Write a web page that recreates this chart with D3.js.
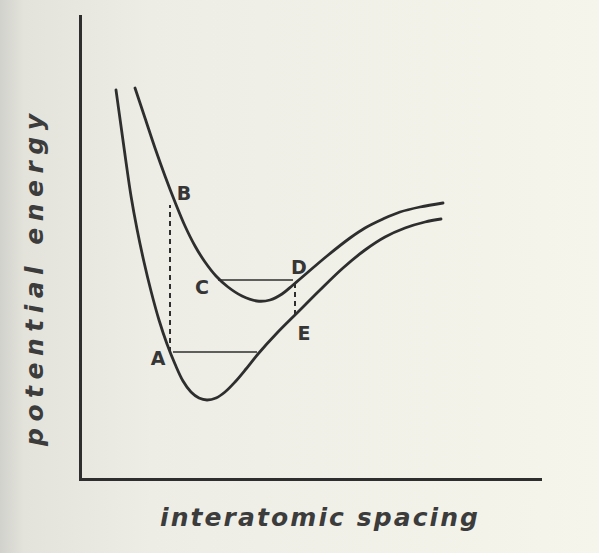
<!DOCTYPE html>
<html>
<head>
<meta charset="utf-8">
<script src="https://cdn.jsdelivr.net/npm/d3@7/dist/d3.min.js"></script>
<style>
  html, body { margin: 0; padding: 0; background: #f0f0e8; }
  svg { display: block; }
</style>
</head>
<body>
<svg id="chart" width="599" height="553"></svg>
<script>
// Potential energy vs. interatomic spacing (arbitrary units)
// Ground-state curve (A ... E)
const groundSpacing = [3.6, 4.1, 4.6, 5.1, 5.7, 6.4, 7.1, 7.9, 8.7, 9.5, 10.3, 11.1, 11.9, 12.7, 13.6, 14.5, 15.5, 16.6, 17.8, 19.7, 21.8, 24.0, 26.3, 28.5, 30.5, 32.5, 34.5, 36.1];
const groundEnergy  = [38.9, 35.3, 31.7, 28.3, 25.0, 21.7, 18.8, 15.9, 13.5, 11.5, 9.8, 8.7, 8.1, 7.9, 8.1, 8.7, 9.7, 11.0, 12.5, 14.6, 16.7, 18.9, 21.1, 22.9, 24.2, 25.1, 25.7, 26.0];

// Excited-state curve (B ... D)
const excitedSpacing = [5.5, 6.5, 7.5, 8.5, 9.5, 10.5, 11.5, 12.5, 13.6, 14.8, 16.2, 17.7, 19.0, 20.2, 21.3, 22.7, 24.7, 27.0, 28.5, 30.3, 32.0, 34.0, 36.3];
const excitedEnergy  = [39.1, 36.1, 33.1, 30.3, 27.7, 25.3, 23.3, 21.7, 20.3, 19.2, 18.3, 17.8, 17.9, 18.5, 19.4, 20.6, 22.3, 24.1, 25.1, 26.0, 26.7, 27.2, 27.6];

// Vibrational levels (solid horizontal lines)
const levelNames  = ["A", "C"];
const levelEnergy = [12.7, 19.9];
const levelFrom   = [9.3, 13.8];
const levelTo     = [17.7, 21.3];

// Vertical transitions (dashed lines)
const transitionSpacing = [9.0, 21.5];
const transitionFrom    = [12.7, 16.4];
const transitionTo      = [27.4, 19.9];

// Point labels
const pointLabels   = ["A", "B", "C", "D", "E"];
const labelSpacing  = [7.8, 10.4, 12.2, 21.9, 22.4];
const labelEnergy   = [12.1, 28.6, 19.2, 21.2, 14.6];

const axisTitleX = "interatomic spacing";
const axisTitleY = "potential energy";

const svg = d3.select("#chart");
const W = 599, H = 553;
const ink = "#2e2e2e";
const font = "'DejaVu Sans', 'Liberation Sans', Arial, sans-serif";

// paper background, slightly shaded toward the binding
const defs = svg.append("defs");
const grad = defs.append("linearGradient").attr("id", "paper")
  .attr("x1", "0").attr("x2", "1").attr("y1", "0").attr("y2", "0");
grad.append("stop").attr("offset", "0").attr("stop-color", "#d2d2cc");
grad.append("stop").attr("offset", "0.04").attr("stop-color", "#e3e3dc");
grad.append("stop").attr("offset", "0.25").attr("stop-color", "#ededE5");
grad.append("stop").attr("offset", "1").attr("stop-color", "#f5f5ec");
svg.append("rect").attr("width", W).attr("height", H).attr("fill", "url(#paper)");

const x = d3.scaleLinear().domain([0, 46]).range([80, 540]);
const y = d3.scaleLinear().domain([0, 46.3]).range([479, 16]);

// axes: bare lines, no ticks
const xAxis = svg.append("g").attr("transform", `translate(0,${y(0)})`)
  .call(d3.axisBottom(x).tickValues([]).tickSizeOuter(0));
const yAxis = svg.append("g").attr("transform", `translate(${x(0)},0)`)
  .call(d3.axisLeft(y).tickValues([]).tickSizeOuter(0));
[xAxis, yAxis].forEach(g => g.select(".domain")
  .attr("stroke", ink).attr("stroke-width", 3).attr("stroke-linecap", "square"));

// curves
const line = d3.line()
  .x(d => x(d[0])).y(d => y(d[1]))
  .curve(d3.curveCatmullRom.alpha(0.5));

const ground = groundSpacing.map((s, i) => [s, groundEnergy[i]]);
const excited = excitedSpacing.map((s, i) => [s, excitedEnergy[i]]);

svg.selectAll("path.curve").data([ground, excited]).join("path")
  .attr("class", "curve")
  .attr("d", line)
  .attr("fill", "none")
  .attr("stroke", ink)
  .attr("stroke-width", 2.8)
  .attr("stroke-linecap", "round");

// vibrational levels
svg.selectAll("line.level").data(levelEnergy).join("line")
  .attr("class", "level")
  .attr("x1", (d, i) => x(levelFrom[i]))
  .attr("x2", (d, i) => x(levelTo[i]))
  .attr("y1", d => y(d)).attr("y2", d => y(d))
  .attr("stroke", ink).attr("stroke-width", 1.7);

// vertical transitions
svg.selectAll("line.transition").data(transitionSpacing).join("line")
  .attr("class", "transition")
  .attr("x1", d => x(d)).attr("x2", d => x(d))
  .attr("y1", (d, i) => y(transitionFrom[i]))
  .attr("y2", (d, i) => y(transitionTo[i]))
  .attr("stroke", ink).attr("stroke-width", 2)
  .attr("stroke-dasharray", "5,4");

// point labels
svg.selectAll("text.pt").data(pointLabels).join("text")
  .attr("class", "pt")
  .attr("x", (d, i) => x(labelSpacing[i]))
  .attr("y", (d, i) => y(labelEnergy[i]))
  .attr("text-anchor", "middle")
  .attr("dominant-baseline", "central")
  .attr("font-family", font)
  .attr("font-weight", "bold")
  .attr("font-size", 19)
  .attr("fill", "#363636")
  .text(d => d);

// axis titles
svg.append("text")
  .attr("x", 319).attr("y", 526)
  .attr("text-anchor", "middle")
  .attr("font-family", font)
  .attr("font-weight", "bold")
  .attr("font-style", "italic")
  .attr("font-size", 25)
  .attr("fill", "#3c3c3c")
  .attr("textLength", 318)
  .attr("lengthAdjust", "spacing")
  .text(axisTitleX);

svg.append("text")
  .attr("transform", "translate(43,280) rotate(-90)")
  .attr("text-anchor", "middle")
  .attr("font-family", font)
  .attr("font-weight", "bold")
  .attr("font-style", "italic")
  .attr("font-size", 25)
  .attr("fill", "#3c3c3c")
  .attr("textLength", 332)
  .attr("lengthAdjust", "spacing")
  .text(axisTitleY);
</script>
</body>
</html>
